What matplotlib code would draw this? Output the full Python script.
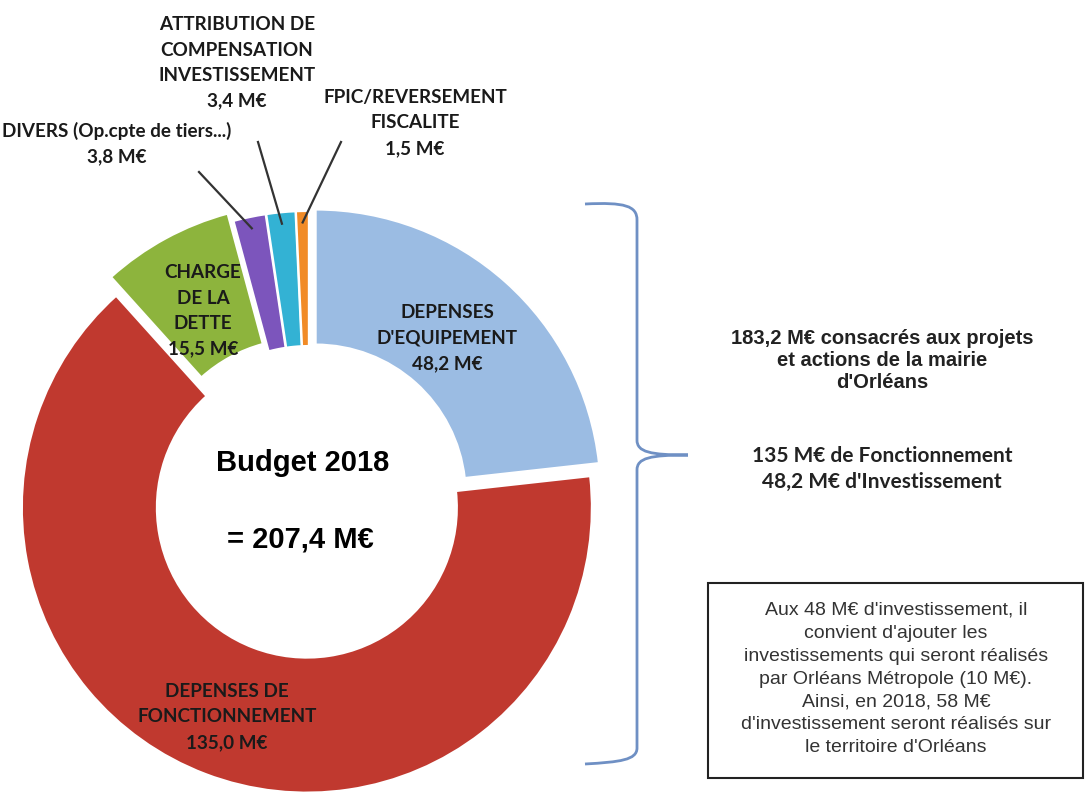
import numpy as np
import matplotlib.pyplot as plt
from matplotlib.path import Path
from matplotlib.patches import PathPatch, Rectangle

# budget 2018, en M€
categories = ["DEPENSES\nD'EQUIPEMENT", "DEPENSES DE\nFONCTIONNEMENT", "CHARGE\nDE LA\nDETTE",
              "DIVERS (Op.cpte de tiers...)", "ATTRIBUTION DE\nCOMPENSATION\nINVESTISSEMENT",
              "FPIC/REVERSEMENT\nFISCALITE"]
values = [48.2, 135.0, 15.5, 3.8, 3.4, 1.5]
colors = ['#9BBCE3', '#C0392F', '#8DB43D', '#7C55BC', '#33B2D4', '#F18B27']

total_label = '= 207,4 M€'
side_text = "183,2 M€ consacrés aux projets\net actions de la mairie\nd'Orléans"
side_text2 = "135 M€ de Fonctionnement\n48,2 M€ d'Investissement"
box_text = ("Aux 48 M€ d'investissement, il\nconvient d'ajouter les\ninvestissements qui seront réalisés\n"
            "par Orléans Métropole (10 M€).\nAinsi, en 2018, 58 M€\nd'investissement seront réalisés sur\n"
            "le territoire d'Orléans")

label_font = 'Lato'
arial = 'Liberation Sans'

fig = plt.figure(figsize=(10.88, 7.94), dpi=100)
ax = fig.add_axes([0, 0, 1, 1])

R = 285
# explode en unités de données (pixels ici)
wedges, _ = ax.pie(values, colors=colors, startangle=-90, counterclock=True,
                   radius=R, center=(309, 502), explode=[10, 6, 15, 6, 6, 6],
                   wedgeprops=dict(width=135, edgecolor='white', linewidth=1.5))

ax.set_xlim(0, 1088)
ax.set_ylim(794, 0)
ax.set_aspect('equal')
ax.axis('off')

def fmt(v):
    return f'{v:.1f}'.replace('.', ',') + ' M€'

lab_kw = dict(ha='center', va='center', fontsize=13.6, fontweight='bold', family=label_font,
              color='#1a1a1a', linespacing=1.6)

# labels dans les parts
inside_pos = {0: (447, 338), 1: (227, 717), 2: (203, 311)}
for i, (x, y) in inside_pos.items():
    ax.text(x, y, categories[i] + '\n' + fmt(values[i]), **lab_kw)

# petites parts avec traits
outside = {3: ((117, 144), (199, 172)), 4: ((237, 63), (258, 142)), 5: ((415, 123), (341, 142))}
for i, ((tx, ty), (lx, ly)) in outside.items():
    ax.text(tx, ty, categories[i] + '\n' + fmt(values[i]), **lab_kw)
    w = wedges[i]
    mid = np.deg2rad((w.theta1 + w.theta2) / 2)
    cx, cy = w.center
    ex, ey = cx + 0.96 * R * np.cos(mid), cy + 0.96 * R * np.sin(mid)
    ax.plot([lx, ex], [ly, ey], color='#333333', lw=1.6)

# centre
ax.text(303, 463, 'Budget 2018', ha='center', va='center', fontsize=21, fontweight='bold', family=arial)
ax.text(300, 540, total_label, ha='center', va='center', fontsize=21, fontweight='bold', family=arial)

# accolade
verts = [(585, 204), (625, 202), (637, 206), (637, 220),
         (637, 440),
         (637, 452), (650, 455), (688, 455),
         (650, 455), (637, 458), (637, 470),
         (637, 748),
         (637, 760), (620, 762), (585, 764)]
codes = [Path.MOVETO, Path.CURVE4, Path.CURVE4, Path.CURVE4,
         Path.LINETO,
         Path.CURVE4, Path.CURVE4, Path.CURVE4,
         Path.CURVE4, Path.CURVE4, Path.CURVE4,
         Path.LINETO,
         Path.CURVE4, Path.CURVE4, Path.CURVE4]
ax.add_patch(PathPatch(Path(verts, codes), fill=False, edgecolor='#6F90C4', lw=2))

ax.text(882, 360, side_text, ha='center', va='center', fontsize=14.5, fontweight='bold',
        family=arial, color='#222222', linespacing=1.2)
ax.text(882, 469, side_text2, ha='center', va='center', fontsize=15, fontweight='bold',
        family=label_font, color='#222222', linespacing=1.35)

ax.add_patch(Rectangle((708, 583), 375, 195, fill=False, edgecolor='#222222', lw=1.5))
ax.text(896, 679, box_text, ha='center', va='center', fontsize=14, family=arial,
        color='#333333', linespacing=1.45)

fig.savefig('out.png', dpi=100)
